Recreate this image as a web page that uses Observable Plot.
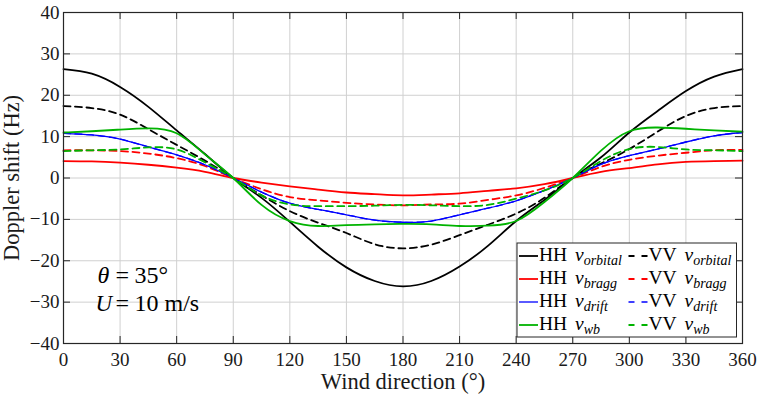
<!DOCTYPE html>
<html>
<head>
<meta charset="utf-8">
<script src="https://cdn.jsdelivr.net/npm/d3@7"></script>
<script src="https://cdn.jsdelivr.net/npm/@observablehq/plot@0.6"></script>
<style>
  html, body { margin: 0; padding: 0; background: #fff; }
  #chart { width: 758px; height: 398px; font-family: 'Liberation Serif'; }
  #chart svg text, #chart svg tspan { font-family: 'Liberation Serif', serif !important; }
</style>
</head>
<body>
<div id="chart"></div>
<script>
// Wind direction samples (degrees) and axis ticks
const angles = [0, 15, 30, 45, 60, 75, 90, 105, 120, 135, 150, 165, 180,
                195, 210, 225, 240, 255, 270, 285, 300, 315, 330, 345, 360];
const xTicks = [0, 30, 60, 90, 120, 150, 180, 210, 240, 270, 300, 330, 360];
const yTicks = [-40, -30, -20, -10, 0, 10, 20, 30, 40];

// Doppler shift components (Hz), theta = 35 deg, U = 10 m/s
const hhOrbital = [26.3, 25.2, 22.0, 17.2, 11.5, 5.8, 0, -4.8, -10.6, -16.6, -21.6, -24.9, -26.2,
                   -24.9, -21.4, -16.4, -10.4, -5.3, 0, 5.0, 11.0, 16.2, 21.0, 24.5, 26.3];
const vvOrbital = [17.4, 16.9, 15.3, 11.8, 8.0, 4.2, 0, -4.2, -8.0, -10.8, -13.3, -16.0, -17.0,
                   -16.1, -13.8, -11.3, -8.6, -4.8, 0, 3.5, 7.0, 11.2, 15.0, 16.9, 17.4];
const hhBragg = [4.1, 4.0, 3.7, 3.2, 2.5, 1.5, 0, -1.1, -2.0, -2.8, -3.5, -3.9, -4.2,
                 -4.0, -3.7, -3.1, -2.5, -1.5, 0, 1.5, 2.4, 3.3, 3.9, 4.1, 4.2];
const vvBragg = [6.7, 6.7, 6.5, 5.9, 4.8, 2.9, 0, -2.7, -4.6, -5.4, -6.0, -6.4, -6.6,
                 -6.4, -6.2, -5.3, -4.2, -2.4, 0, 2.7, 4.4, 5.4, 6.1, 6.7, 6.8];
const hhDrift = [10.8, 10.4, 9.4, 7.5, 5.6, 3.2, 0, -3.4, -6.1, -7.6, -8.9, -10.2, -10.7,
                 -10.4, -8.9, -7.3, -5.5, -3.0, 0, 3.3, 5.4, 7.0, 8.7, 10.2, 11.0];
// the drift term does not depend on polarization
const vvDrift = [...hhDrift];
const hhWb = [11.0, 11.3, 11.7, 12.0, 10.8, 5.7, 0, -6.5, -10.4, -11.6, -11.4, -11.2, -11.1,
              -11.2, -11.6, -11.5, -10.4, -5.8, 0, 6.6, 11.3, 12.2, 11.9, 11.5, 11.2];
const vvWb = [6.5, 6.7, 6.9, 7.4, 6.9, 3.8, 0, -4.2, -6.4, -6.8, -6.8, -6.7, -6.5,
              -6.6, -6.8, -6.5, -5.0, -3.0, 0, 4.1, 7.0, 7.5, 6.9, 6.7, 6.5];

const polarizations = ["HH", "VV"];
const components = ["orbital", "bragg", "drift", "wb"];

const seriesValues = {
  HH: { orbital: hhOrbital, bragg: hhBragg, drift: hhDrift, wb: hhWb },
  VV: { orbital: vvOrbital, bragg: vvBragg, drift: vvDrift, wb: vvWb }
};

// styling
const fontFamily = "'Liberation Serif', serif";
const textColor = "#1a1a1a";
const axisColor = "#262626";
const gridColor = "#d0d0d0";
const componentColor = { orbital: "#000000", bragg: "#ff0000", drift: "#0000ff", wb: "#00b300" };
const componentWidth = { orbital: 1.8, bragg: 1.8, drift: 1.3, wb: 1.8 };
const dashPattern = { HH: null, VV: "7,4.5" };

const width = 758, height = 398;
const margin = { top: 12, right: 16, bottom: 55, left: 63 };
const innerW = width - margin.left - margin.right;
const innerH = height - margin.top - margin.bottom;
const tickLen = 7;

// one line per series, drawn in legend order (row by row)
const lineMarks = components.flatMap(comp => polarizations.map(pol => {
  const vals = seriesValues[pol][comp];
  const rows = angles.map((a, i) => ({ angle: a, value: vals[i] }));
  const opts = {
    x: "angle", y: "value",
    stroke: componentColor[comp],
    strokeWidth: componentWidth[comp],
    curve: "natural"
  };
  if (dashPattern[pol]) opts.strokeDasharray = dashPattern[pol];
  return Plot.line(rows, opts);
}));

const textOpts = { fontFamily, fill: "#000", lineAnchor: "bottom", textAnchor: "start", frameAnchor: "top-left", fontSize: 24 };

const svg = Plot.plot({
  width, height,
  marginTop: margin.top, marginRight: margin.right,
  marginBottom: margin.bottom, marginLeft: margin.left,
  x: { domain: [0, 360] },
  y: { domain: [-40, 40] },
  style: { fontFamily, color: textColor, background: "#fff", overflow: "visible" },
  marks: [
    Plot.gridX({ ticks: xTicks, stroke: gridColor, strokeOpacity: 1, strokeWidth: 1 }),
    Plot.gridY({ ticks: yTicks, stroke: gridColor, strokeOpacity: 1, strokeWidth: 1 }),
    ...lineMarks,
    // inward ticks on all four sides
    Plot.tickX(xTicks, { x: d => d, insetTop: innerH - tickLen, stroke: axisColor, strokeWidth: 1 }),
    Plot.tickX(xTicks, { x: d => d, insetBottom: innerH - tickLen, stroke: axisColor, strokeWidth: 1 }),
    Plot.tickY(yTicks, { y: d => d, insetRight: innerW - tickLen, stroke: axisColor, strokeWidth: 1 }),
    Plot.tickY(yTicks, { y: d => d, insetLeft: innerW - tickLen, stroke: axisColor, strokeWidth: 1 }),
    Plot.frame({ stroke: axisColor, strokeWidth: 1.2 }),
    Plot.axisX({ ticks: xTicks, tickSize: 0, tickPadding: 9, fontSize: 19, fontFamily, label: null }),
    Plot.axisY({ ticks: yTicks, tickSize: 0, tickPadding: 4, fontSize: 19, fontFamily, label: null }),
    // axis titles
    Plot.text(["Wind direction (°)"], {
      frameAnchor: "bottom", dy: 45.5, lineAnchor: "bottom", textAnchor: "middle", fontSize: 22.5, fontFamily
    }),
    Plot.text(["Doppler shift (Hz)"], {
      frameAnchor: "left", dx: -51.5, rotate: -90, lineAnchor: "middle", textAnchor: "middle", fontSize: 22.5, fontFamily
    }),
    // parameter annotation
    Plot.text(["θ"], { ...textOpts, dx: 34, dy: 270, fontStyle: "italic" }),
    Plot.text(["="], { ...textOpts, dx: 52, dy: 270 }),
    Plot.text(["35°"], { ...textOpts, dx: 71, dy: 270 }),
    Plot.text(["U"], { ...textOpts, dx: 32, dy: 298, fontStyle: "italic", fontSize: 23 }),
    Plot.text(["="], { ...textOpts, dx: 52, dy: 298 }),
    Plot.text(["10 m/s"], { ...textOpts, dx: 71, dy: 298 })
  ]
});

// legend box: two columns (HH, VV), one row per component
const legend = d3.select(svg).append("g")
  .attr("font-family", fontFamily).attr("text-anchor", "start").attr("fill", "#000");
legend.append("rect")
  .attr("x", 517).attr("y", 243).attr("width", 219.5).attr("height", 94)
  .attr("fill", "#fff").attr("stroke", axisColor).attr("stroke-width", 1);
const rowBaselines = [261, 284, 307, 330];
const columnStart = { HH: 519, VV: 628.5 };
components.forEach((comp, r) => {
  polarizations.forEach(pol => {
    const x0 = columnStart[pol];
    const yb = rowBaselines[r];
    legend.append("line")
      .attr("x1", x0).attr("x2", x0 + 19)
      .attr("y1", yb - 5).attr("y2", yb - 5)
      .attr("stroke", componentColor[comp])
      .attr("stroke-width", componentWidth[comp])
      .attr("stroke-dasharray", pol === "VV" ? "6,7" : null);
    legend.append("text").attr("x", x0 + 20).attr("y", yb).attr("font-size", 19.5).text(pol);
    const v = legend.append("text").attr("x", x0 + 56).attr("y", yb).attr("font-size", 19.5).attr("font-style", "italic");
    v.append("tspan").text("v");
    v.append("tspan").attr("font-size", 14).attr("dy", 4).text(comp);
  });
});

// every label uses the serif face
d3.select(svg).attr("font-family", fontFamily).style("font-family", fontFamily);
d3.select(svg).selectAll("text").attr("font-family", fontFamily).style("font-family", fontFamily);

document.getElementById("chart").appendChild(svg);
</script>
</body>
</html>
